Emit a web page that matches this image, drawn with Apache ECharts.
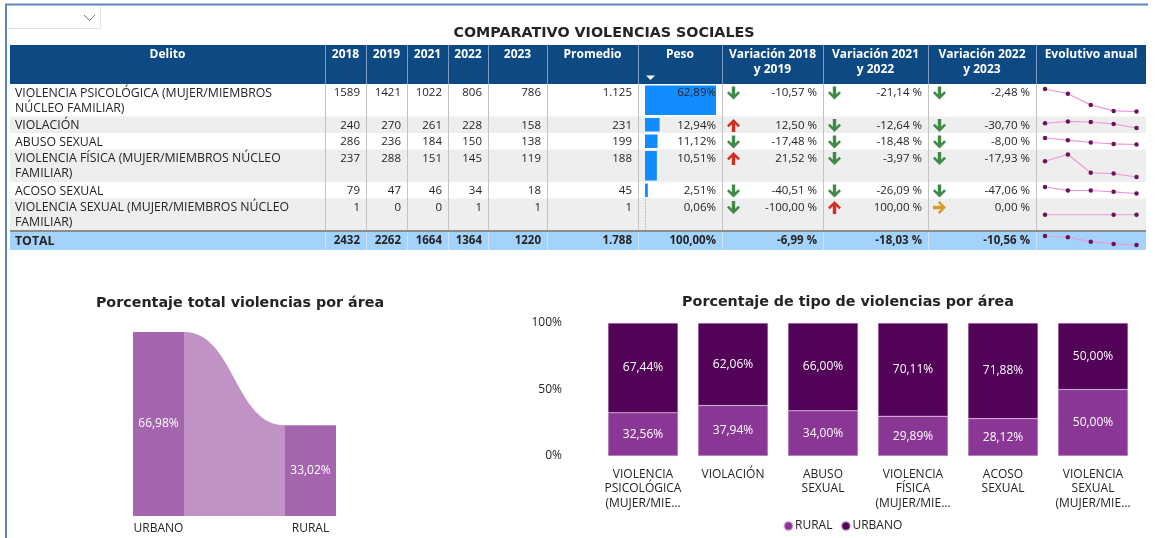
<!DOCTYPE html>
<html><head><meta charset="utf-8">
<script src="https://cdn.jsdelivr.net/npm/echarts@6/dist/echarts.min.js"></script>
<style>html,body{margin:0;padding:0;background:#fff}#c{width:1155px;height:538px}</style>
</head><body><div id="c"></div>
<script>
// ---------- DATA ----------
const delitos = ['VIOLENCIA PSICOLÓGICA (MUJER/MIEMBROS NÚCLEO FAMILIAR)', 'VIOLACIÓN', 'ABUSO SEXUAL',
  'VIOLENCIA FÍSICA (MUJER/MIEMBROS NÚCLEO FAMILIAR)', 'ACOSO SEXUAL', 'VIOLENCIA SEXUAL (MUJER/MIEMBROS NÚCLEO FAMILIAR)'];
const years = ['2018', '2019', '2021', '2022', '2023'];
const v2018 = [1589, 240, 286, 237, 79, 1];
const v2019 = [1421, 270, 236, 288, 47, 0];
const v2021 = [1022, 261, 184, 151, 46, 0];
const v2022 = [806, 228, 150, 145, 34, 1];
const v2023 = [786, 158, 138, 119, 18, 1];
const promedio = [1125, 231, 199, 188, 45, 1];
const peso = [62.89, 12.94, 11.12, 10.51, 2.51, 0.06];
const var1819 = [-10.57, 12.50, -17.48, 21.52, -40.51, -100.00];
const var2122 = [-21.14, -12.64, -18.48, -3.97, -26.09, 100.00];
const var2223 = [-2.48, -30.70, -8.00, -17.93, -47.06, 0.00];
const totalYears = [2432, 2262, 1664, 1364, 1220];
const totalPromedio = 1788;
const totalPeso = 100.00;
const totalVars = [-6.99, -18.03, -10.56];
const headers = ['Delito', '2018', '2019', '2021', '2022', '2023', 'Promedio', 'Peso',
  'Variación 2018\ny 2019', 'Variación 2021\ny 2022', 'Variación 2022\ny 2023', 'Evolutivo anual'];

const areaCats = ['URBANO', 'RURAL'];
const areaPct = [66.98, 33.02];

const tipoLabels = ['VIOLENCIA\nPSICOLÓGICA\n(MUJER/MIE…', 'VIOLACIÓN', 'ABUSO\nSEXUAL',
  'VIOLENCIA\nFÍSICA\n(MUJER/MIE…', 'ACOSO\nSEXUAL', 'VIOLENCIA\nSEXUAL\n(MUJER/MIE…'];
const ruralPct = [32.56, 37.94, 34.00, 29.89, 28.12, 50.00];
const urbanoPct = [67.44, 62.06, 66.00, 70.11, 71.88, 50.00];
const pctTicks = [0, 50, 100];

// ---------- LAYOUT ----------
const FF = '"Open Sans", "Noto Sans", sans-serif';
const TF = '"DejaVu Sans", sans-serif';
const colX = [10, 325, 366, 407, 448, 488, 547, 638, 722, 823, 928, 1036, 1146];
const headTop = 45, headBot = 84;
const numFont = '11.5px ' + FF;
const delFont = '12.3px ' + FF;
const ctx = document.createElement('canvas').getContext('2d');
function wrap(text, font, maxW) {
  ctx.font = font;
  const words = text.split(' '); const lines = []; let cur = '';
  for (const w of words) {
    const t = cur ? cur + ' ' + w : w;
    if (ctx.measureText(t).width > maxW && cur) { lines.push(cur); cur = w; } else cur = t;
  }
  if (cur) lines.push(cur);
  return lines;
}
const fmtPct = v => v.toFixed(2).replace('.', ',') + '%';
const fmtVar = v => v.toFixed(2).replace('.', ',') + ' %';
const fmtThousand = v => String(v).replace(/\B(?=(\d{3})+(?!\d))/g, '.');

const g = [];
// dashboard frame
g.push({type: 'line', shape: {x1: 5, y1: 4.5, x2: 1148, y2: 4.5}, style: {stroke: '#5a86c0', lineWidth: 2}, z: 50});
g.push({type: 'line', shape: {x1: 6, y1: 4, x2: 6, y2: 538}, style: {stroke: '#5a86c0', lineWidth: 2}, z: 50});
// slicer
g.push({type: 'polyline', shape: {points: [[7, 28.5], [100.5, 28.5], [100.5, 6]]}, style: {stroke: '#e3e3e3', fill: null, lineWidth: 1}});
g.push({type: 'polyline', shape: {points: [[84, 15], [89.5, 20.5], [95, 15]]}, style: {stroke: '#7a7a7a', fill: null, lineWidth: 1}});
// title
g.push({type: 'text', x: 604, y: 33, z: 100, style: {text: 'COMPARATIVO VIOLENCIAS SOCIALES', fill: '#252423',
  font: 'bold 14.3px ' + TF, align: 'center', verticalAlign: 'middle'}});
// header
g.push({type: 'rect', shape: {x: colX[0], y: headTop, width: colX[12] - colX[0], height: headBot - headTop}, style: {fill: '#0d4a84'}});
for (let j = 1; j < colX.length - 1; j++) {
  g.push({type: 'line', shape: {x1: colX[j] + 0.5, y1: headTop, x2: colX[j] + 0.5, y2: headBot}, style: {stroke: '#7f9cc0', lineWidth: 1}, z: 5});
}
headers.forEach((h, j) => {
  g.push({type: 'text', x: (colX[j] + colX[j + 1]) / 2, y: 47.5, z: 100,
    style: {text: h, fill: '#ffffff', font: 'bold 12px ' + FF, align: 'center', verticalAlign: 'top', lineHeight: 14.5}});
});
g.push({type: 'polygon', shape: {points: [[646, 75.5], [655, 75.5], [650.5, 80]]}, style: {fill: '#ffffff'}, z: 100});

// rows
const rowTops = [], rowHs = [];
let yCur = headBot;
const wrapped = delitos.map(d => wrap(d, delFont, 300));
wrapped.forEach(lines => { rowTops.push(yCur); const h = lines.length * 16 + 0.5; rowHs.push(h); yCur += h; });
const totTop = yCur, totH = 19;

function arrow(cx, cy, dir) {
  const base = [[-1.7, -6.5], [1.7, -6.5], [1.7, 1.3], [4.7, -1.7], [6.5, 0.1], [0, 6.5], [-6.5, 0.1], [-4.7, -1.7], [-1.7, 1.3]];
  return base.map(([x, y]) => {
    if (dir === 'down') return [cx + x, cy + y];
    if (dir === 'up') return [cx + x, cy - y];
    return [cx + y, cy + x];
  });
}
const arrowColor = {down: '#3f8a47', up: '#d2301e', right: '#d99a2c'};

wrapped.forEach((lines, i) => {
  const top = rowTops[i], h = rowHs[i];
  g.push({type: 'rect', shape: {x: colX[0], y: top, width: colX[12] - colX[0], height: h}, style: {fill: i % 2 ? '#eeeeee' : '#ffffff'}, z: 0});
  const ty = top + 1.5;
  const txt = (s, x, align, font) => g.push({type: 'text', x, y: ty, z: 100,
    style: {text: s, fill: '#252423', font: font || numFont, align, verticalAlign: 'top', lineHeight: 15}});
  txt(lines.join('\n'), 15, 'left', delFont);
  [v2018, v2019, v2021, v2022, v2023].forEach((arr, k) => txt(String(arr[i]), colX[k + 2] - 6, 'right'));
  txt(fmtThousand(promedio[i]), colX[7] - 6, 'right');
  txt(fmtPct(peso[i]), colX[8] - 6, 'right');
  [var1819, var2122, var2223].forEach((arr, k) => {
    const v = arr[i];
    txt(fmtVar(v), colX[9 + k] - 6, 'right');
    const dir = v > 0 ? 'up' : (v < 0 ? 'down' : 'right');
    g.push({type: 'polygon', z: 100, shape: {points: arrow(colX[8 + k] + 11.5, top + 9, dir)}, style: {fill: arrowColor[dir]}});
  });
});
// peso baseline for tiny bar
const li = peso.length - 1;
g.push({type: 'line', z: 60, shape: {x1: 645.5, y1: rowTops[li] + 1, x2: 645.5, y2: rowTops[li] + rowHs[li] - 1}, style: {stroke: '#9a9a9a', lineWidth: 1, lineDash: [1, 2]}});
// total row
g.push({type: 'rect', shape: {x: colX[0], y: totTop, width: colX[12] - colX[0], height: totH}, style: {fill: '#a3d2fb'}, z: 0});
const ttxt = (s, x, align, font) => g.push({type: 'text', x, y: totTop + totH / 2 + 0.5, z: 100,
  style: {text: s, fill: '#252423', font: 'bold ' + (font || numFont), align, verticalAlign: 'middle'}});
ttxt('TOTAL', 15, 'left', delFont);
totalYears.forEach((v, k) => ttxt(String(v), colX[k + 2] - 6, 'right'));
ttxt(fmtThousand(totalPromedio), colX[7] - 6, 'right');
ttxt(fmtPct(totalPeso), colX[8] - 6, 'right');
totalVars.forEach((v, k) => ttxt(fmtVar(v), colX[9 + k] - 6, 'right'));
// body separators
for (let j = 1; j < colX.length - 1; j++) {
  g.push({type: 'line', shape: {x1: colX[j] + 0.5, y1: headBot, x2: colX[j] + 0.5, y2: totTop}, style: {stroke: '#c3c3c3', lineWidth: 1}, z: 5});
  g.push({type: 'line', shape: {x1: colX[j] + 0.5, y1: totTop, x2: colX[j] + 0.5, y2: totTop + totH}, style: {stroke: '#c9e3fb', lineWidth: 1}, z: 5});
}
g.push({type: 'line', shape: {x1: colX[0], y1: totTop, x2: colX[12], y2: totTop}, style: {stroke: '#8d8d8d', lineWidth: 2}, z: 6});

// ---------- SERIES / GRIDS ----------
const grids = [], xAxes = [], yAxes = [], series = [];
const BAR_W = 51;
// grid 0: ribbon chart
grids.push({left: 158.5, top: 332, width: 152, height: 184});
xAxes.push({type: 'category', gridIndex: 0, data: areaCats, boundaryGap: false,
  axisLine: {show: false}, axisTick: {show: false}, axisLabel: {color: '#252423', fontSize: 12, fontFamily: FF, margin: 7}});
yAxes.push({type: 'value', gridIndex: 0, min: 0, max: 'dataMax', show: false});
series.push({type: 'custom', xAxisIndex: 0, yAxisIndex: 0, z: 1, silent: true,
  data: [[0, areaPct[0], 1, areaPct[1]]],
  renderItem: (params, api) => {
    const a = api.coord([0, api.value(1)]);
    const b = api.coord([1, api.value(3)]);
    const base = api.coord([0, 0])[1];
    const x0 = a[0] + BAR_W / 2, x1 = b[0] - BAR_W / 2, mx = (x0 + x1) / 2;
    return {type: 'path', shape: {pathData: `M${x0} ${a[1]} C${mx} ${a[1]} ${mx} ${b[1]} ${x1} ${b[1]} L${x1} ${base} L${x0} ${base} Z`},
      style: {fill: '#c092c6'}};
  }});
series.push({type: 'bar', xAxisIndex: 0, yAxisIndex: 0, data: areaPct, barWidth: BAR_W, z: 2,
  itemStyle: {color: '#a565ae'},
  label: {show: true, position: 'inside', color: '#ffffff', fontSize: 12, fontFamily: FF, formatter: p => fmtPct(p.value)}});

// grid 1: stacked 100% columns
grids.push({left: 598, top: 323, width: 540, height: 133});
xAxes.push({type: 'category', gridIndex: 1, data: tipoLabels,
  axisLine: {show: false}, axisTick: {show: false},
  axisLabel: {interval: 0, color: '#252423', fontSize: 12, fontFamily: FF, lineHeight: 14.5, margin: 11}});
yAxes.push({type: 'value', gridIndex: 1, min: pctTicks[0], max: pctTicks[2], interval: pctTicks[1] - pctTicks[0],
  splitLine: {show: false}, axisLine: {show: false}, axisTick: {show: false},
  axisLabel: {formatter: '{value}%', color: '#252423', fontSize: 12, fontFamily: FF, margin: 36, padding: [3, 0, 0, 0]}});
const stackLabel = {show: true, position: 'inside', color: '#ffffff', fontSize: 12, fontFamily: FF, formatter: p => fmtPct(p.value)};
series.push({name: 'RURAL', type: 'bar', stack: 'a', xAxisIndex: 1, yAxisIndex: 1, data: ruralPct, barWidth: 70,
  itemStyle: {color: '#8a3694', borderColor: 'rgba(230,200,235,0.6)', borderWidth: 0.5}, label: stackLabel});
series.push({name: 'URBANO', type: 'bar', stack: 'a', xAxisIndex: 1, yAxisIndex: 1, data: urbanoPct, barWidth: 70,
  itemStyle: {color: '#520358', borderColor: 'rgba(230,200,235,0.6)', borderWidth: 0.5}, label: stackLabel});

// peso data bars
const pesoMax = Math.max(...peso);
peso.forEach((v, i) => {
  const gi = grids.length;
  grids.push({left: 645, top: rowTops[i] + 1.5, width: 71, height: rowHs[i] - 3});
  xAxes.push({type: 'value', gridIndex: gi, min: 0, max: pesoMax, show: false});
  yAxes.push({type: 'category', gridIndex: gi, data: [delitos[i]], show: false});
  series.push({type: 'bar', xAxisIndex: gi, yAxisIndex: gi, data: [v], barWidth: '100%', silent: true,
    itemStyle: {color: '#118dff'}, z: 2});
});

// sparklines
const spark = (vals, top, h) => {
  const gi = grids.length;
  grids.push({left: 1045, top: top + 5, width: 91.5, height: h - 10});
  xAxes.push({type: 'category', gridIndex: gi, data: years, boundaryGap: false, show: false});
  yAxes.push({type: 'value', gridIndex: gi, show: false, scale: true,
    min: e => e.min === e.max ? e.min - 1 : e.min, max: e => e.min === e.max ? e.max + 1 : e.max});
  series.push({type: 'line', xAxisIndex: gi, yAxisIndex: gi, data: vals.map(v => v === 0 ? null : v), connectNulls: true,
    symbol: 'circle', symbolSize: 4.5, showSymbol: true, silent: true,
    lineStyle: {color: '#eb9bd8', width: 1.2}, itemStyle: {color: '#6e1358'}, z: 3});
};
delitos.forEach((d, i) => spark([v2018[i], v2019[i], v2021[i], v2022[i], v2023[i]], rowTops[i], rowHs[i]));
spark(totalYears, totTop, totH);

const option = {
  animation: false,
  backgroundColor: '#ffffff',
  textStyle: {fontFamily: FF},
  title: [
    {text: 'Porcentaje total violencias por área', left: 240, textAlign: 'center', top: 296, padding: 0,
      textStyle: {fontSize: 14.3, fontWeight: 'bold', color: '#252423', fontFamily: TF}},
    {text: 'Porcentaje de tipo de violencias por área', left: 848, textAlign: 'center', top: 295, padding: 0,
      textStyle: {fontSize: 14.3, fontWeight: 'bold', color: '#252423', fontFamily: TF}}
  ],
  legend: {data: ['RURAL', 'URBANO'], icon: 'circle', itemWidth: 9, itemHeight: 9, itemGap: 8,
    left: 783, top: 520, padding: 0, textStyle: {fontSize: 12, color: '#252423', fontFamily: FF, padding: [0, 0, 0, -3]}},
  grid: grids, xAxis: xAxes, yAxis: yAxes, series: series,
  graphic: {elements: g}
};
const chart = echarts.init(document.getElementById('c'));
chart.setOption(option);
</script></body></html>
